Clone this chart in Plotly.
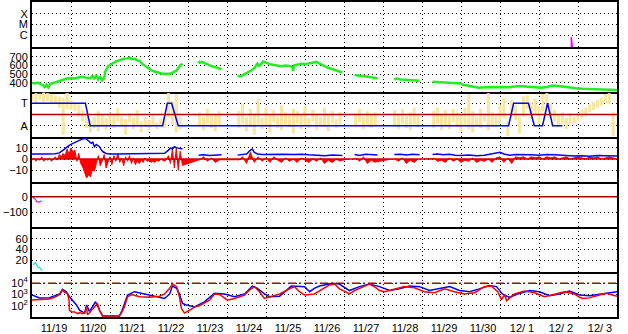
import plotly.graph_objects as go
from plotly.subplots import make_subplots

# ---------------- data (time in days from 11/19 00:00) ----------------
DAY_LABELS = ["11/19", "11/20", "11/21", "11/22", "11/23", "11/24", "11/25", "11/26",
              "11/27", "11/28", "11/29", "11/30", "12/ 1", "12/ 2", "12/ 3"]
X_RANGE = [0, 15]

# Panel 1: X-ray flux (log10)
XRAY_T = [13.83, 13.83, 13.85, 13.86]
XRAY_LOG = [-7.3, -6.17, -6.95, -7.3]

# Panel 2: solar wind speed
VEL_T = [0.0, 0.08, 0.15, 0.22, 0.3, 0.33, 0.37, 0.42, 0.47, 0.55,
         0.62, 0.7, 0.8, 0.9, 1.0, 1.1, 1.2, 1.3, 1.4, 1.5,
         1.55, 1.6, 1.65, 1.7, 1.75, 1.8, 1.85, 1.88, 1.95, 2.05,
         2.15, 2.25, 2.35, 2.45, 2.5, 2.55, 2.63, 2.7, 2.76, 2.82,
         2.88, 2.95, 3.01, 3.08, 3.14, 3.25, 3.35, 3.45, 3.55, 3.62,
         3.7, 3.75, 3.8, 3.86, None,
         4.27, 4.3, 4.35, 4.42, 4.5, 4.55, 4.62, 4.7, 4.78, 4.86, None,
         5.27, 5.35, 5.45, 5.55, 5.63, 5.7, 5.75, 5.78, 5.82, 5.86,
         5.92, 6.0, 6.1, 6.2, 6.3, 6.4, 6.5, 6.6, 6.68, 6.7,
         6.72, 6.8, 6.9, 7.0, 7.1, 7.2, 7.3, 7.35, 7.45, 7.55,
         7.65, 7.75, 7.85, 7.96, None,
         8.27, 8.4, 8.55, 8.7, 8.86, None,
         9.29, 9.35, 9.45, 9.6, 9.75, 9.94, None,
         10.27, 10.45, 10.6, 10.75, 10.9, 11.0, 11.05, 11.15, 11.3, 11.45,
         11.6, 11.75, 11.9, 12.05, 12.2, 12.35, 12.5, 12.65, 12.8, 12.95,
         13.05, 13.2, 13.35, 13.5, 13.65, 13.8, 13.95, 14.1, 14.3, 14.5,
         14.7, 15.0]
VEL_V = [400, 395, 405, 390, 370, 345, 380, 350, 390, 400,
         410, 425, 440, 450, 455, 450, 465, 470, 460, 455,
         480, 445, 490, 440, 470, 430, 455, 530, 590, 620,
         645, 660, 675, 680, 690, 670, 675, 660, 650, 620,
         600, 575, 555, 540, 530, 515, 505, 505, 505, 520,
         540, 570, 600, 620, None,
         650, 630, 640, 625, 615, 600, 590, 580, 565, 555, None,
         480, 475, 500, 520, 545, 570, 600, 620, 595, 605,
         645, 630, 615, 605, 600, 590, 600, 595, 580, 540,
         600, 610, 620, 615, 625, 630, 640, 625, 600, 580,
         565, 550, 535, 520, None,
         490, 480, 470, 465, 455, None,
         440, 450, 440, 435, 430, 425, None,
         415, 410, 412, 405, 400, 395, 380, 375, 360, 345,
         350, 355, 350, 355, 350, 360, 365, 360, 355, 350,
         345, 355, 370, 365, 355, 350, 340, 335, 330, 325,
         320, 320]

# Panel 3: field direction spread (yellow) and sector (T=1 / A=-1)
YEL_T = [0.0, 0.1, 0.2, 0.3, 0.4, 0.5, 0.6, 0.7, 0.8, 0.9,
         1.0, 1.1, 1.2, 1.3, 1.4, 1.5, 1.6, 1.7, 1.8, 1.9,
         2.0, 2.1, 2.2, 2.3, 2.4, 2.5, 2.6, 2.7, 2.8, 2.9,
         3.0, 3.1, 3.2, 3.3, 3.4, 3.5, 3.6, 3.7, 3.8,
         4.3, 4.4, 4.5, 4.6, 4.7, 4.8,
         5.3, 5.4, 5.5, 5.6, 5.7, 5.8, 5.9, 6.0, 6.1, 6.2,
         6.3, 6.4, 6.5, 6.6, 6.7, 6.8, 6.9, 7.0, 7.1, 7.2,
         7.3, 7.4, 7.5, 7.6, 7.7, 7.8, 7.9,
         8.3, 8.4, 8.5, 8.6, 8.7, 8.8,
         9.3, 9.4, 9.5, 9.6, 9.7, 9.8, 9.9,
         10.3, 10.4, 10.5, 10.6, 10.7, 10.8, 10.9, 11.0, 11.1, 11.2,
         11.3, 11.4, 11.5, 11.6, 11.7, 11.8, 11.9, 12.0, 12.1, 12.2,
         12.3, 12.4, 12.5, 12.6, 12.7, 12.8, 12.9, 13.0, 13.1, 13.2,
         13.3, 13.4, 13.5, 13.6, 13.7, 13.8, 13.9, 14.0, 14.1, 14.2,
         14.3, 14.4, 14.5, 14.6, 14.7, 14.8, 14.9]
YEL_LO = [1.2, 1.0, 1.3, 1.1, 1.2, 0.9, 1.0, 0.6, -1.8, 0.5,
          0.4, 0.3, -0.2, -0.6, -1.2, -1.6, -1.2, -1.5, -1.0, -1.4,
          -0.8, -1.2, -0.6, -1.0, -1.8, -0.7, -1.3, -0.9, -1.6, -1.1,
          -1.4, -0.9, -1.3, -1.0, -1.2, -0.3, -0.9, -1.6, -1.3,
          -1.0, -1.4, -0.8, -1.2, -1.5, -0.9,
          -1.2, -0.8, -1.5, -1.0, -1.8, -0.9, -1.3, -1.0, -1.6, -0.7,
          -1.2, -1.4, -0.9, -1.1, -1.7, -0.8, -1.3, -1.0, -1.2, -0.6,
          -1.4, -1.0, -1.1, -1.5, -0.8, -1.2, -0.9,
          -1.1, -0.7, -1.3, -0.9, -1.2, -1.0,
          -1.0, -1.3, -0.8, -1.2, -1.4, -0.9, -1.1,
          -1.2, -0.8, -1.4, -1.0, -1.3, -0.7, -1.1, -1.5, -0.9, -1.3,
          -1.6, -1.0, -1.2, -0.6, -1.4, -1.0, -1.1, -0.8, -0.3, -1.9,
          0.2, -0.5, -1.7, -0.2, 0.5, -0.4, 0.0, -0.8, 0.3, 0.6,
          -0.2, -0.6, -1.1, -0.8, -1.3, -0.9, -0.8, -0.6, -0.3, -0.1,
          0.2, 0.4, 0.6, 0.8, 1.0, 0.9, -1.9]
YEL_HI = [1.8, 1.9, 1.85, 1.95, 1.9, 1.8, 1.7, 1.6, 1.5, 1.9,
          1.3, 1.0, 0.9, 0.4, 0.0, -0.5, -0.2, 0.3, 0.0, -0.3,
          0.2, -0.1, 0.6, -0.2, -0.4, 0.1, -0.3, 0.4, -0.6, -0.2,
          -0.5, 0.0, -0.7, -0.4, -0.5, 1.9, 1.2, 1.8, -0.2,
          0.2, -0.2, 0.5, -0.1, 0.0, 0.3,
          0.3, 0.9, -0.2, 0.5, 0.1, 1.4, -0.3, 0.6, 0.0, 0.4,
          -0.2, 0.8, 0.2, -0.1, 0.5, 0.3, 0.0, 0.7, -0.3, 0.4,
          0.1, -0.2, 0.6, 0.0, 0.3, -0.4, 0.2,
          0.1, 0.5, -0.2, 0.3, 0.0, 0.2,
          0.4, 0.0, 0.5, -0.1, 0.2, 0.6, 0.1,
          0.3, 0.6, 0.0, 0.4, -0.1, 0.5, 0.2, 0.0, 0.6, 1.8,
          0.3, -0.2, 0.5, 0.1, 1.9, 0.2, -0.1, 0.9, 1.5, -0.6,
          1.3, 0.8, -0.2, 1.6, 1.7, 1.1, 1.4, 0.7, 1.8, 1.9,
          1.0, 0.4, 0.0, 0.2, -0.3, 0.1, -0.2, 0.1, 0.4, 0.6,
          0.9, 1.1, 1.3, 1.5, 1.8, 1.9, 0.2]
SECTOR_T = [0, 1.37, 1.49, 3.35, 3.47, 3.58, 3.75, 12.22, 12.35, 12.73, 12.88, 13.09, 13.22, 13.35, 13.60]
SECTOR_V = [1, 1, -1, -1, 1, 1, -1, -1, 1, 1, -1, -1, 1, -1, -1]

# Panel 4: Bt (blue) and Bz (red)
BT_T = [0.0, 0.2, 0.4, 0.6, 0.7, 0.8, 0.9, 0.96, 1.05, 1.1,
        1.2, 1.3, 1.37, 1.42, 1.47, 1.52, 1.56, 1.6, 1.65, 1.7,
        1.73, 1.78, 1.82, 1.9, 2.0, 2.2, 2.4, 2.6, 2.8, 3.0,
        3.2, 3.4, 3.5, 3.55, 3.6, 3.65, 3.72, 3.78, 3.86, None,
        4.27, 4.4, 4.55, 4.7, 4.86, None,
        5.27, 5.4, 5.5, 5.6, 5.65, 5.7, 5.78, 5.9, 6.1, 6.3,
        6.5, 6.7, 6.9, 7.1, 7.3, 7.5, 7.7, 7.96, None,
        8.27, 8.4, 8.55, 8.7, 8.86, None,
        9.29, 9.45, 9.6, 9.75, 9.94, None,
        10.27, 10.4, 10.55, 10.7, 10.85, 11.0, 11.2, 11.4, 11.6, 11.8,
        11.95, 12.0, 12.1, 12.25, 12.4, 12.6, 12.8, 13.0, 13.2, 13.4,
        13.53, 13.7, 13.9, 14.1, 14.3, 14.5, 14.7, 14.85, 15.0]
BT_V = [4.5, 4.3, 4.6, 4.8, 5.5, 8, 11, 12.5, 14, 15,
        16.5, 18, 18.5, 17, 15.5, 14, 15, 11, 13, 12,
        11, 8, 6.5, 5, 4.6, 4.5, 4.7, 4.5, 4.6, 4.8,
        5, 5.2, 8, 10, 9, 11, 10, 9.5, 9, None,
        3.5, 3.8, 3.2, 3.6, 3.8, None,
        3.5, 4, 4.5, 8, 9, 6, 4.5, 4, 4.2, 3.8,
        4.2, 4, 4.4, 3.8, 3.5, 3.0, 3.6, 3.2, None,
        4, 3.2, 4.2, 3.8, 3.6, None,
        4, 4.2, 3.6, 4.3, 3.8, None,
        4, 4.5, 3.8, 4.2, 3.5, 3.2, 3.6, 3.0, 3.4, 4.5,
        5.5, 6, 4.5, 3.5, 4, 3.6, 3.8, 3.5, 4, 3.8,
        3.5, 2.6, 2.8, 3.0, 2.6, 3.2, 2.8, 3.0, 2.8]
BZ_T = [0.00, 0.05, 0.10, 0.15, 0.20, 0.25, 0.30, 0.35, 0.40, 0.45,
        0.50, 0.55, 0.60, 0.65, 0.70, 0.75, 0.80, 0.85, 0.90, 0.95,
        1.00, 1.05, 1.10, 1.15, 1.20, 1.25, 1.30, 1.35, 1.40, 1.45,
        1.50, 1.55, 1.60, 1.65, 1.70, 1.75, 1.80, 1.85, 1.90, 1.95,
        2.00, 2.05, 2.10, 2.15, 2.20, 2.25, 2.30, 2.35, 2.40, 2.45,
        2.50, 2.55, 2.60, 2.65, 2.70, 2.75, 2.80, 2.85, 2.90, 2.95,
        3.00, 3.05, 3.10, 3.15, 3.20, 3.25, 3.30, 3.35, 3.40, 3.45,
        3.50, 3.55, 3.60, 3.65, 3.70, 3.75, 3.80, 3.86, None,
        4.3, 4.4, 4.5, 4.6, 4.7, 4.8, None,
        5.3, 5.4, 5.5, 5.6, 5.7, 5.8, 5.9, 6.0, 6.1, 6.2,
        6.3, 6.4, 6.5, 6.6, 6.7, 6.8, 6.9, 7.0, 7.1, 7.2,
        7.3, 7.4, 7.5, 7.6, 7.7, 7.8, 7.9, None,
        8.3, 8.4, 8.5, 8.6, 8.7, 8.8, None,
        9.3, 9.4, 9.5, 9.6, 9.7, 9.8, 9.9, None,
        10.3, 10.4, 10.5, 10.6, 10.7, 10.8, 10.9, 11.0, 11.1, 11.2,
        11.3, 11.4, 11.5, 11.6, 11.7, 11.8, 11.9, 12.0, 12.1, 12.2,
        12.3, 12.4, 12.5, 12.6, 12.7, 12.8, 12.9, 13.0, 13.1, 13.2,
        13.3, 13.4, 13.5, 13.6, 13.7, 13.8, 13.9, 14.0, 14.1, 14.2,
        14.3, 14.4, 14.5, 14.6, 14.7, 14.8, 14.9, 15.0]
BZ_V = [-1, 1, -2, 0, -1, 2, -2, 0, -1, 1,
        -2, 0, 2, -1, 4, 2, 5, 3, 9, 4,
        10, 6, 8, -2, 5, -4, -7, -12, -17, -14,
        -16, -9, -11, -4, 3, -6, -2, 4, -8, -3,
        2, -5, 3, -2, 5, -3, 1, -6, 2, -2,
        3, -4, 1, -5, -2, -4, -1, -3, 1, -2,
        -1, -3, -2, -3, -1, -2, 0, -1, -2, 0,
        3, -4, 9, -8, 10, -10, 7, -6, None,
        -1, 2, -2, 1, -3, -1, None,
        -1, 2, -4, 6, -3, 2, -2, 1, -3, 2,
        -1, -3, 1, -2, 0, -3, 1, -1, -3, 0,
        -2, 1, -4, -1, -3, 0, -2, None,
        1, -2, 2, -4, -1, -3, None,
        0, -2, 1, -4, -1, -3, 0, None,
        1, -2, -1, -3, 1, -2, 0, -3, -1, -2,
        1, -3, -1, -2, 0, -3, 1, 2, -3, 1,
        -4, 2, 1, 2, 0, 2, 1, 2, 0, 2,
        1, 2, 0, 1, 2, 0, 1, 2, 1, 0,
        2, 1, 2, 0, 1, 2, 1, 0]

# Panel 5: short magenta index trace
DST_T = [0.02, 0.09, 0.12, 0.19, 0.24]
DST_V = [-4, -17, -32, -35, -26]

# Panel 6: short cyan trace
CYAN_T = [0.02, 0.09, 0.12, 0.16, 0.19, 0.24, 0.26]
CYAN_V = [11, 16, 11, 7, 7, 3, 1]

# Panel 7: particle fluxes (log10)
RED_T = [0, 0.19, 0.45, 0.58, 0.71, 0.78, 0.83, 0.91, 0.95, 0.96,
         1.01, 1.09, 1.17, 1.22, 1.29, 1.35, 1.40, 1.42, 1.47, 1.55,
         1.60, 1.65, 1.68, 1.73, 1.81, 1.99, 2.12, 2.24, 2.29, 2.37,
         2.45, 2.55, 2.76, 3.01, 3.27, 3.40, 3.53, 3.60, 3.71, 3.78,
         3.83, 3.91, 4.04, 4.17, 4.29, 4.55, 4.68, 4.81, 5.01, 5.19,
         5.45, 5.58, 5.71, 5.83, 5.96, 6.09, 6.35, 6.60, 6.73, 6.86,
         6.99, 7.24, 7.37, 7.63, 7.76, 7.88, 8.01, 8.14, 8.27, 8.53,
         8.65, 8.78, 8.91, 9.04, 9.29, 9.55, 9.81, 10.06, 10.32, 10.58,
         10.83, 11.09, 11.35, 11.60, 11.78, 11.94, 12.04, 12.12, 12.17, 12.37,
         12.63, 12.88, 13.14, 13.40, 13.65, 13.91, 14.04, 14.12, 14.29, 14.55,
         14.73, 15.0]
RED_LOG = [2.51, 2.55, 2.6, 2.75, 3.0, 3.4, 3.2, 3.05, 2.5, 1.6,
           1.47, 1.45, 1.3, 1.4, 1.3, 1.38, 1.9, 1.2, 1.35, 1.7,
           1.9, 2.1, 2.2, 1.6, 1.1, 1.1, 1.1, 1.1, 1.35, 1.9,
           2.8, 3.0, 2.8, 2.75, 2.85, 3.05, 3.55, 3.93, 3.7, 2.8,
           1.77, 1.35, 1.6, 1.9, 2.0, 2.5, 3.05, 3.0, 2.5, 2.65,
           2.95, 3.4, 3.7, 3.25, 2.65, 2.8, 3.05, 3.5, 3.7, 3.25,
           2.95, 3.05, 3.3, 3.85, 3.93, 3.5, 3.3, 3.05, 3.35, 3.75,
           3.93, 3.7, 3.35, 3.25, 3.5, 3.7, 3.6, 3.25, 3.16, 3.5,
           3.25, 3.05, 3.16, 3.7, 3.75, 3.25, 2.55, 3.0, 2.45, 3.05,
           3.3, 3.16, 2.8, 3.05, 3.25, 3.05, 2.75, 2.65, 2.7, 2.95,
           3.1, 2.85]
BLUE_T = [0, 0.19, 0.45, 0.71, 0.78, 0.88, 0.96, 1.04, 1.14, 1.22,
          1.35, 1.40, 1.47, 1.55, 1.63, 1.73, 1.81, 2.0, 2.24, 2.30,
          2.37, 2.45, 2.63, 2.88, 3.14, 3.40, 3.53, 3.60, 3.71, 3.78,
          3.86, 3.96, 4.17, 4.42, 4.68, 4.94, 5.19, 5.45, 5.65, 5.78,
          5.96, 6.09, 6.35, 6.65, 6.99, 7.12, 7.24, 7.37, 7.71, 7.88,
          8.14, 8.40, 8.65, 8.91, 9.17, 9.42, 9.68, 9.94, 10.19, 10.45,
          10.71, 10.96, 11.22, 11.47, 11.73, 11.91, 12.06, 12.24, 12.45, 12.76,
          13.01, 13.27, 13.53, 13.78, 14.04, 14.29, 14.55, 14.81, 15.0]
BLUE_LOG = [2.96, 2.7, 2.72, 3.05, 3.46, 3.25, 2.8, 2.5, 2.07, 1.6,
            1.35, 2.07, 1.5, 1.9, 2.36, 1.6, 1.1, 1.1, 1.1, 1.5,
            2.2, 2.95, 3.25, 3.05, 2.8, 2.65, 3.05, 3.75, 3.55, 3.05,
            2.2, 2.07, 1.9, 2.35, 3.1, 3.05, 2.8, 3.05, 3.75, 3.55,
            3.05, 2.8, 2.85, 3.75, 3.7, 3.25, 3.55, 3.75, 4.0, 3.93,
            3.35, 3.7, 3.93, 3.7, 3.35, 3.5, 3.75, 3.7, 3.35, 3.5,
            3.7, 3.35, 3.25, 3.5, 3.8, 3.7, 3.05, 2.75, 3.05, 3.35,
            3.25, 2.9, 3.05, 3.3, 2.95, 2.9, 3.05, 3.2, 3.25]
FLUX_THRESHOLD = 1e4

# ---------------- figure ----------------
FONT = "Arial, Liberation Sans, sans-serif"
DOT = "1px,3px"

fig = make_subplots(rows=7, cols=1, shared_xaxes=True, vertical_spacing=0)

fig.add_trace(go.Scatter(x=XRAY_T, y=XRAY_LOG, mode="lines",
                         line=dict(color="#ff00ff", width=1.5)), row=1, col=1)
fig.add_trace(go.Scatter(x=VEL_T, y=VEL_V, mode="lines",
                         line=dict(color="#22ee22", width=2.5)), row=2, col=1)
fig.add_trace(go.Bar(x=YEL_T, y=[h - l for h, l in zip(YEL_HI, YEL_LO)], base=YEL_LO,
                     width=0.08, marker=dict(color="#f7e7a1", line=dict(width=0))), row=3, col=1)
fig.add_trace(go.Scatter(x=SECTOR_T, y=SECTOR_V, mode="lines",
                         line=dict(color="#0000ff", width=1.5)), row=3, col=1)
fig.add_trace(go.Scatter(x=BZ_T, y=BZ_V, mode="lines", fill="tozeroy", fillcolor="#ff0000",
                         line=dict(color="#ff0000", width=1)), row=4, col=1)
fig.add_trace(go.Scatter(x=BT_T, y=BT_V, mode="lines",
                         line=dict(color="#0000ff", width=1.5)), row=4, col=1)
fig.add_trace(go.Scatter(x=DST_T, y=DST_V, mode="lines",
                         line=dict(color="#ff00ff", width=1.2)), row=5, col=1)
fig.add_trace(go.Scatter(x=CYAN_T, y=CYAN_V, mode="lines",
                         line=dict(color="#22dddd", width=1.2)), row=6, col=1)
fig.add_trace(go.Scatter(x=X_RANGE, y=[FLUX_THRESHOLD, FLUX_THRESHOLD], mode="lines",
                         line=dict(color="#b00000", width=1.5, dash="8px,3px,2px,3px")), row=7, col=1)
fig.add_trace(go.Scatter(x=BLUE_T, y=[10 ** v for v in BLUE_LOG], mode="lines",
                         line=dict(color="#0000ff", width=1.5)), row=7, col=1)
fig.add_trace(go.Scatter(x=RED_T, y=[10 ** v for v in RED_LOG], mode="lines",
                         line=dict(color="#ff0000", width=1.5)), row=7, col=1)

# zero reference lines
fig.add_hline(y=0, row=3, col=1, line=dict(color="#b00000", width=1.5))
fig.add_hline(y=0, row=4, col=1, line=dict(color="#d00000", width=1.5))
fig.add_hline(y=0, row=5, col=1, line=dict(color="#a00000", width=1.5))

xcommon = dict(range=X_RANGE, tickmode="array", tickvals=list(range(len(DAY_LABELS))),
               ticktext=DAY_LABELS, ticklabelshift=22, ticks="",
               showgrid=True, gridcolor="black", griddash=DOT, gridwidth=1,
               zeroline=False, showline=True, linecolor="black", linewidth=2,
               automargin=False, tickfont=dict(family=FONT, size=11, color="black"))
for r in range(1, 8):
    fig.update_xaxes(row=r, col=1, **xcommon)
    # only the top panel draws its top edge; every panel draws its bottom edge once
    fig.update_xaxes(row=r, col=1, showticklabels=(r == 7), mirror=(r == 1))

ycommon = dict(showgrid=True, gridcolor="black", griddash=DOT, gridwidth=1,
               zeroline=False, showline=True, mirror=True, linecolor="black", linewidth=2,
               ticks="", automargin=False, tickmode="array",
               tickfont=dict(family=FONT, size=11, color="black"))
ysettings = {
    1: dict(range=[-7.1, -2.9], tickvals=[-4, -5, -6], ticktext=["X", "M", "C"]),
    2: dict(range=[297, 810], tickvals=[400, 500, 600, 700]),
    3: dict(range=[-2, 2], tickvals=[1, -1], ticktext=["T", "A"]),
    4: dict(range=[-20.5, 19.7], tickvals=[10, 0, -10]),
    5: dict(range=[-194, 94], tickvals=[0, -100]),
    6: dict(range=[-1.7, 81.7], tickvals=[20, 40, 60]),
    7: dict(type="log", range=[1, 5], tickvals=[100, 1000, 10000],
            ticktext=["10<sup>2</sup>", "10<sup>3</sup>", "10<sup>4</sup>"]),
}
for r, s in ysettings.items():
    fig.update_yaxes(row=r, col=1, **ycommon)
    fig.update_yaxes(row=r, col=1, **s)

fig.update_layout(width=628, height=334, margin=dict(l=32, r=11, t=2, b=17),
                  plot_bgcolor="white", paper_bgcolor="white", showlegend=False,
                  barmode="overlay", font=dict(family=FONT, size=11, color="black"))

fig.write_html("out.html")
